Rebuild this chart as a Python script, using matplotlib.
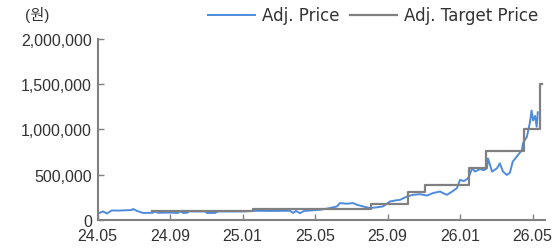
import matplotlib
matplotlib.use("Agg")
import matplotlib.pyplot as plt
from matplotlib.ticker import FuncFormatter

plt.rcParams['font.family'] = ['Liberation Sans', 'Noto Sans CJK KR', 'DejaVu Sans']

# x values are months since 2024-05
price_month = [0.0, 0.29, 0.51, 0.77, 1.2, 1.6, 1.88, 1.95, 2.17, 2.5, 3.05, 3.16, 3.33,
               3.9, 4.43, 4.54, 4.71, 4.93, 5.04, 5.5, 5.92, 6.03, 6.47, 6.64, 7.4,
               8.13, 8.68, 9.6, 10.61, 10.78, 10.94, 11.16, 11.39, 12.27, 12.82, 13.2,
               13.37, 13.75, 14.09, 14.31, 14.64, 15.02, 15.4, 15.74, 16.13, 16.4,
               16.68, 17.07, 17.4, 17.78, 18.17, 18.5, 18.89, 19.05, 19.27, 19.6,
               19.82, 19.99, 20.2, 20.37, 20.49, 20.65, 20.82, 21.1, 21.3, 21.48,
               21.53, 21.76, 22.03, 22.19, 22.36, 22.57, 22.74, 22.9, 23.19, 23.41,
               23.46, 23.68, 23.85, 23.94, 24.02, 24.13, 24.22, 24.28]
price = [70000, 95000, 72000, 105000, 104000, 108000, 110000, 122000, 100000, 78000,
         80000, 95000, 80000, 82000, 78000, 95000, 78000, 80000, 95000, 94000, 95000,
         78000, 78000, 95000, 94000, 95000, 102000, 100000, 102000, 78000, 100000,
         75000, 100000, 113000, 132000, 150000, 187000, 180000, 187000, 168000,
         150000, 132000, 140000, 150000, 205000, 215000, 223000, 260000, 278000,
         285000, 270000, 297000, 315000, 297000, 278000, 320000, 352000, 443000,
         430000, 450000, 480000, 571000, 535000, 564000, 550000, 571000, 681000,
         535000, 571000, 626000, 535000, 498000, 520000, 645000, 718000, 773000,
         846000, 920000, 1080000, 1210000, 1100000, 1150000, 1030000, 1190000]

target_month = [2.98, 8.57, 15.1, 17.1, 18.05, 20.5, 21.45, 23.5, 24.4, 24.5]
target = [100000, 120000, 176000, 311000, 385000, 570000, 765000, 1000000, 1500000, 1500000]

tick_month = [0, 4, 8, 12, 16, 20, 24]
tick_labels = ["24.05", "24.09", "25.01", "25.05", "25.09", "26.01", "26.05"]

fig = plt.figure(figsize=(5.55, 2.53), dpi=100)
ax = fig.add_axes([0.176, 0.1265, 0.806, 0.7155])

ax.plot(price_month, price, color="#4F8BDB", lw=1.4, label="Adj. Price")
ax.step(target_month, target, where="post", color="#808080", lw=1.6, label="Adj. Target Price")

ax.set_xlim(0, 24.68)
ax.set_ylim(0, 2000000)
ax.set_xticks(tick_month)
ax.set_xticklabels(tick_labels)
ax.set_yticks([0, 500000, 1000000, 1500000, 2000000])
ax.yaxis.set_major_formatter(FuncFormatter(lambda v, p: f"{int(v):,}"))

for s in ["top", "right"]:
    ax.spines[s].set_visible(False)
for s in ["left", "bottom"]:
    ax.spines[s].set_color("#808080")
    ax.spines[s].set_linewidth(1.5)
ax.tick_params(direction="in", length=4, width=1, color="#808080",
               labelsize=11.5, labelcolor="#333333", pad=4)
ax.tick_params(axis="x", pad=6)

fig.text(0.045, 0.94, "(원)", fontsize=11, color="#333333", va="center")
fig.legend(loc="center right", bbox_to_anchor=(0.985, 0.935), ncol=2, frameon=False,
           prop={"family": "DejaVu Sans", "size": 12}, handlelength=2.8,
           handletextpad=0.45, columnspacing=0.6, labelcolor="#333333", borderpad=0)

fig.savefig("out.png", dpi=100)
